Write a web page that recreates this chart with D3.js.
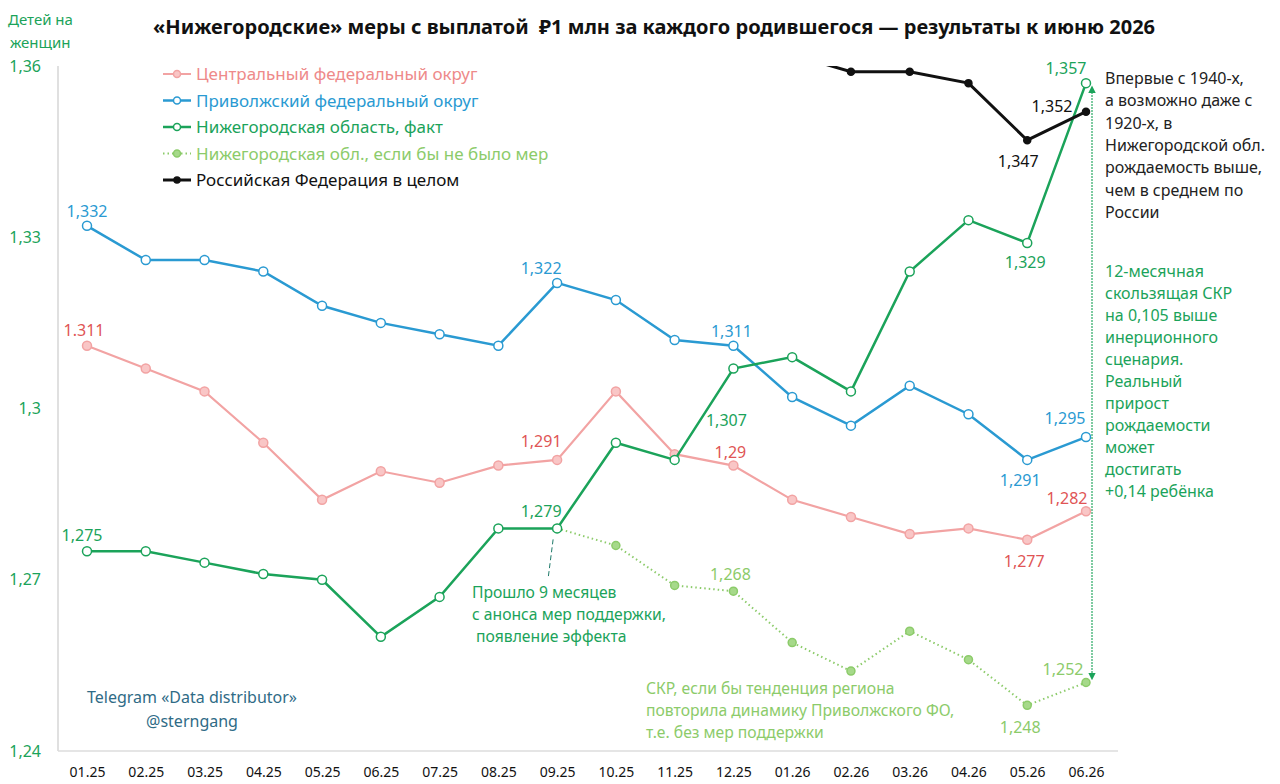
<!DOCTYPE html>
<html>
<head>
<meta charset="utf-8">
<script src="https://cdn.jsdelivr.net/npm/d3@7"></script>
<style>
  body { margin: 0; background: #fff; }
  svg { font-family: "Noto Sans", Roboto, sans-serif; }
</style>
</head>
<body>
<div id="chart"></div>
<script>
// months on x axis
var months = ["01.25","02.25","03.25","04.25","05.25","06.25","07.25","08.25","09.25",
              "10.25","11.25","12.25","01.26","02.26","03.26","04.26","05.26","06.26"];

// 12-month rolling TFR
var cfo   = [1.311,1.307,1.303,1.294,1.284,1.289,1.287,1.290,1.291,1.303,1.292,1.290,1.284,1.281,1.278,1.279,1.277,1.282];
var pfo   = [1.332,1.326,1.326,1.324,1.318,1.315,1.313,1.311,1.322,1.319,1.312,1.311,1.302,1.297,1.304,1.299,1.291,1.295];
var nizh  = [1.275,1.275,1.273,1.271,1.270,1.260,1.267,1.279,1.279,1.294,1.291,1.307,1.309,1.303,1.324,1.333,1.329,1.357];
// scenario without support measures (starts from 09.25)
var nizhNoMeasuresMonths = ["09.25","10.25","11.25","12.25","01.26","02.26","03.26","04.26","05.26","06.26"];
var nizhNoMeasures = [1.279,1.276,1.269,1.268,1.259,1.254,1.261,1.256,1.248,1.252];
// Russia overall (earlier months are above the chart)
var rfMonths = ["01.26","02.26","03.26","04.26","05.26","06.26"];
var rf       = [1.362,1.359,1.359,1.357,1.347,1.352];

var yTicks = [1.24, 1.27, 1.30, 1.33, 1.36];

var width = 1280, height = 784;

var svg = d3.select("#chart").append("svg")
    .attr("width", width)
    .attr("height", height);

var x = d3.scalePoint().domain(months).range([87, 1086]);
var y = d3.scaleLinear().domain([1.24, 1.36]).range([751, 66]);

var comma = function(v) { return String(+v.toFixed(3)).replace(".", ","); };

// colors
var cPink = "#f2a3a3", cPinkText = "#e05555";
var cBlue = "#2a9ad2";
var cGreen = "#1ba35a";
var cLight = "#8ccb6a";
var cBlack = "#111";

// clip region (black line goes above the top)
svg.append("clipPath").attr("id", "plot")
  .append("rect").attr("x", 58).attr("y", 66).attr("width", 1100).attr("height", 700);

// axes
svg.append("line")
  .attr("x1", 58).attr("x2", 58).attr("y1", 66).attr("y2", 751)
  .style("stroke", "#d6d6d6").style("stroke-width", 1.5);
svg.append("line")
  .attr("x1", 58).attr("x2", 1118).attr("y1", 751).attr("y2", 751)
  .style("stroke", "#dcdcdc").style("stroke-width", 1.5);

var yAxis = svg.append("g")
  .attr("transform", "translate(58,0)")
  .call(d3.axisLeft(y).tickValues(yTicks).tickSize(0).tickPadding(17).tickFormat(comma));
yAxis.select(".domain").remove();
yAxis.selectAll("text")
  .style("font-size", "16px").style("fill", cGreen).style("font-family", "Noto Sans, sans-serif");

var xAxis = svg.append("g")
  .attr("transform", "translate(0,751)")
  .call(d3.axisBottom(x).tickSize(0).tickPadding(16));
xAxis.select(".domain").remove();
xAxis.selectAll("text")
  .style("font-size", "14px").style("fill", "#111").style("font-family", "Noto Sans, sans-serif");

// y axis title
svg.append("text").attr("x", 8).attr("y", 25).text("Детей на")
  .style("font-size", "15px").style("fill", cGreen);
svg.append("text").attr("x", 10).attr("y", 48).text("женщин")
  .style("font-size", "15px").style("fill", cGreen);

// title
svg.append("text")
  .attr("x", 654).attr("y", 34)
  .attr("text-anchor", "middle")
  .style("font-size", "20px").style("font-weight", "bold").style("fill", "#111")
  .text("«Нижегородские» меры с выплатой \u00a0₽1 млн за каждого родившегося — результаты к июню 2026");

function drawSeries(ms, vals, opt) {
  var pts = ms.map(function(m, i) { return {m: m, v: vals[i]}; });
  var line = d3.line().x(function(d) { return x(d.m); }).y(function(d) { return y(d.v); });
  var g = svg.append("g").attr("clip-path", "url(#plot)");
  g.append("path")
    .datum(pts)
    .attr("d", line)
    .style("fill", "none")
    .style("stroke", opt.color)
    .style("stroke-width", opt.width)
    .style("stroke-dasharray", opt.dash || null);
  g.selectAll("circle")
    .data(pts).enter().append("circle")
    .attr("cx", function(d) { return x(d.m); })
    .attr("cy", function(d) { return y(d.v); })
    .attr("r", opt.r)
    .style("fill", opt.fill)
    .style("stroke", opt.color)
    .style("stroke-width", 1.5);
}

// dashed pointer from 09.25
svg.append("line")
  .attr("x1", x("09.25") - 4).attr("y1", y(1.279) + 11)
  .attr("x2", x("09.25") - 9).attr("y2", y(1.279) + 50)
  .style("stroke", "#1f7a6a").style("stroke-width", 1).style("stroke-dasharray", "5,3");

drawSeries(nizhNoMeasuresMonths, nizhNoMeasures, {color: cLight, width: 2, dash: "1.5,3", r: 4, fill: "#a6d98a"});
drawSeries(months, cfo,  {color: cPink,  width: 2.2, r: 4.5, fill: "#f9c6c6"});
drawSeries(months, pfo,  {color: cBlue,  width: 2.5, r: 4.5, fill: "#fff"});
drawSeries(months, nizh, {color: cGreen, width: 2.5, r: 4.5, fill: "#fff"});
drawSeries(rfMonths, rf, {color: cBlack, width: 3, r: 3.5, fill: cBlack});

// value labels: [month, value, color, dx, dy, text]
var labels = [
  ["01.25", 1.332, cBlue, 0, -9, "1,332"],
  ["09.25", 1.322, cBlue, -16, -9, "1,322"],
  ["12.25", 1.311, cBlue, -2, -9, "1,311"],
  ["05.26", 1.291, cBlue, -7, 26, "1,291"],
  ["06.26", 1.295, cBlue, -21, -13, "1,295"],
  ["01.25", 1.311, cPinkText, -3, -10, "1.311"],
  ["09.25", 1.291, cPinkText, -16, -13, "1,291"],
  ["12.25", 1.290, cPinkText, -3, -8, "1,29"],
  ["05.26", 1.277, cPinkText, -3, 27, "1,277"],
  ["06.26", 1.282, cPinkText, -19, -7, "1,282"],
  ["01.25", 1.275, cGreen, -5, -10, "1,275"],
  ["09.25", 1.279, cGreen, -16, -11, "1,279"],
  ["12.25", 1.307, cGreen, -7, 57, "1,307"],
  ["05.26", 1.329, cGreen, -2, 25, "1,329"],
  ["06.26", 1.357, cGreen, -20, -9, "1,357"],
  ["12.25", 1.268, cLight, -3, -11, "1,268"],
  ["05.26", 1.248, cLight, -7, 28, "1,248"],
  ["06.26", 1.252, cLight, -23, -8, "1,252"],
  ["06.26", 1.352, cBlack, -34, 0, "1,352"],
  ["05.26", 1.347, cBlack, -9, 27, "1,347"]
];
svg.selectAll("text.vlabel")
  .data(labels).enter().append("text")
  .attr("class", "vlabel")
  .attr("x", function(d) { return x(d[0]) + d[3]; })
  .attr("y", function(d) { return y(d[1]) + d[4]; })
  .attr("text-anchor", "middle")
  .style("font-size", "16px")
  .style("fill", function(d) { return d[2]; })
  .text(function(d) { return d[5]; });

// double arrow between fact and no-measures scenario
var ax = x("06.26") + 6;
var defs = svg.append("defs");
defs.append("marker").attr("id", "arr").attr("viewBox", "0 0 10 10")
  .attr("refX", 5).attr("refY", 5).attr("markerWidth", 5).attr("markerHeight", 5)
  .attr("orient", "auto-start-reverse")
  .append("path").attr("d", "M0,0L10,5L0,10Z").style("fill", cGreen);
svg.append("line")
  .attr("x1", ax).attr("x2", ax)
  .attr("y1", y(1.357) + 6).attr("y2", y(1.252) - 6)
  .attr("marker-start", "url(#arr)").attr("marker-end", "url(#arr)")
  .style("stroke", cGreen).style("stroke-width", 1.5).style("stroke-dasharray", "1.5,1.5");

// legend
var legend = [
  ["Центральный федеральный округ", cPink, "#f9c6c6", null, cPink, 2],
  ["Приволжский федеральный округ", cBlue, "#fff", null, cBlue, 2.5],
  ["Нижегородская область, факт", cGreen, "#fff", null, cGreen, 2.5],
  ["Нижегородская обл., если бы не было мер", cLight, "#a6d98a", "1.5,3", cLight, 2],
  ["Российская Федерация в целом", cBlack, cBlack, null, cBlack, 3]
];
var lg = svg.selectAll("g.leg").data(legend).enter().append("g")
  .attr("class", "leg")
  .attr("transform", function(d, i) { return "translate(163," + (74 + i * 26.5) + ")"; });
lg.append("line").attr("x1", 0).attr("x2", 28)
  .style("stroke", function(d) { return d[1]; })
  .style("stroke-width", function(d) { return d[5]; })
  .style("stroke-dasharray", function(d) { return d[3]; });
lg.append("circle").attr("cx", 14).attr("r", function(d, i) { return i == 4 ? 3 : 3.5; })
  .style("fill", function(d) { return d[2]; })
  .style("stroke", function(d) { return d[1]; }).style("stroke-width", 1.5);
lg.append("text").attr("x", 33).attr("y", 6)
  .style("font-size", "17px")
  .style("fill", function(d) { return d[4] == cPink ? "#ee8a8a" : d[4]; })
  .text(function(d) { return d[0]; });

function multiline(lines, x0, y0, lh, color, size, anchor) {
  var t = svg.append("text")
    .attr("x", x0).attr("y", y0)
    .attr("text-anchor", anchor || "start")
    .style("font-size", size + "px").style("fill", color);
  lines.forEach(function(s, i) {
    t.append("tspan").attr("x", x0).attr("y", y0 + i * lh).text(s);
  });
}

multiline(["Впервые с 1940-х,", "а возможно даже с", "1920-х, в", "Нижегородской обл.",
           "рождаемость выше,", "чем в среднем по", "России"], 1105, 84, 22.3, "#222", 16);
multiline(["12-месячная", "скользящая СКР", "на 0,105 выше", "инерционного", "сценария.",
           "Реальный", "прирост", "рождаемости", "может", "достигать", "+0,14 ребёнка"],
          1105, 277, 22, cGreen, 16);
multiline(["Прошло 9 месяцев", "с анонса мер поддержки,", "\u00a0появление эффекта"], 472, 598, 22, cGreen, 15.7);
multiline(["СКР, если бы тенденция региона", "повторила динамику Приволжского ФО,", "т.е. без мер поддержки"],
          646, 694, 22, cLight, 15.7);
multiline(["Telegram «Data distributor»", "@sterngang"], 192, 703, 24, "#2f6b86", 16, "middle");
</script>
</body>
</html>
